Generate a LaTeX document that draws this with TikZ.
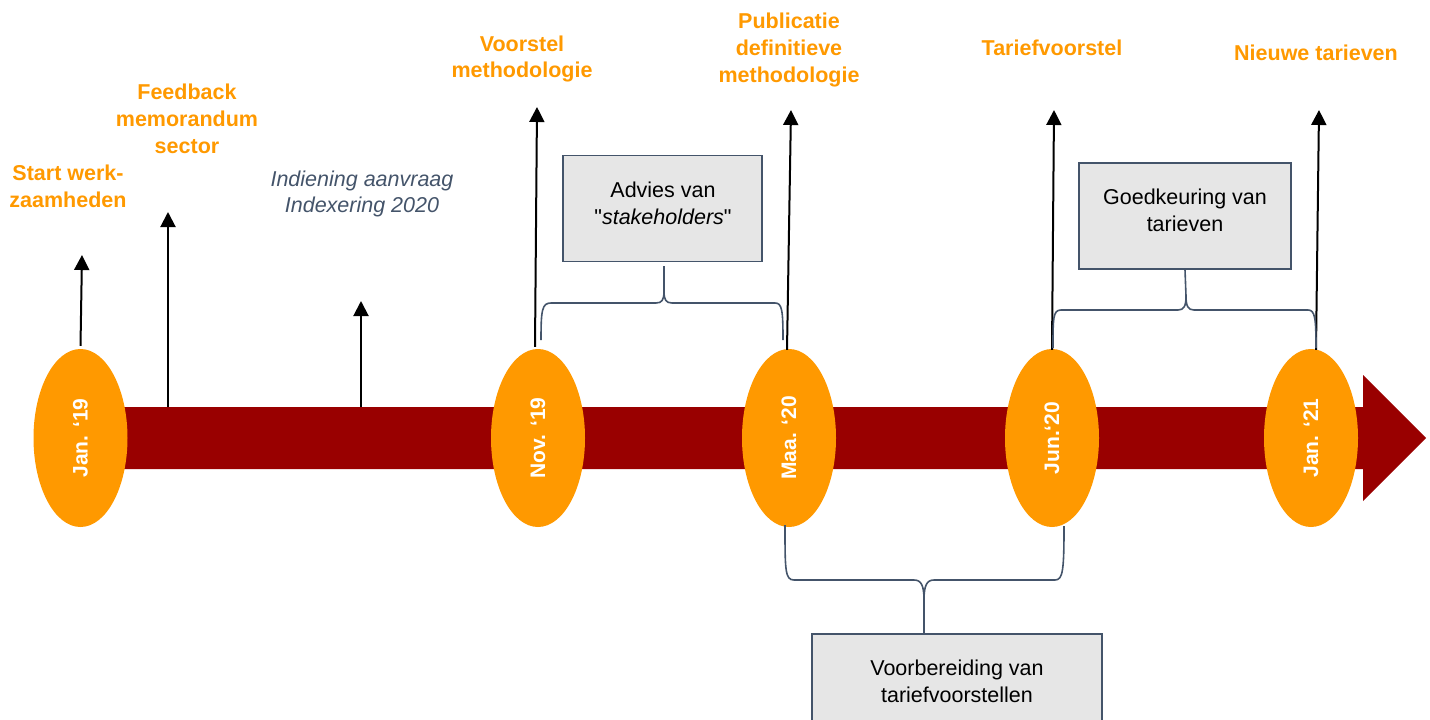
\documentclass[tikz,border=0pt]{standalone}
\usepackage{fontspec}
\setmainfont{Liberation Sans}[Ligatures=TeXOff]
\usepackage{graphicx}
\usetikzlibrary{arrows.meta,shapes.geometric}
\definecolor{orng}{RGB}{255,153,0}
\definecolor{barred}{RGB}{153,0,0}
\definecolor{slate}{RGB}{68,84,106}
\definecolor{boxgray}{RGB}{230,230,230}
\begin{document}
\begin{tikzpicture}[x=1pt,y=-1pt,
  lbl/.style={text=orng, font=\bfseries\fontsize{21.5}{26.7}\selectfont, align=center, inner sep=0pt},
  ital/.style={text=slate, font=\itshape\fontsize{21.5}{26.7}\selectfont, align=center, inner sep=0pt},
  boxtxt/.style={text=black, font=\fontsize{21.5}{27}\selectfont, align=center, inner sep=0pt},
  mile/.style={ellipse, fill=orng, minimum width=94pt, minimum height=178pt, inner sep=0pt, text=white, font=\bfseries\fontsize{21}{25}\selectfont},
  boxs/.style={draw=slate, fill=boxgray, line width=1.5pt, inner sep=0pt},
  arr/.style={line width=2pt, -{Triangle[width=15pt,length=15pt]}},
  brc/.style={draw=slate, line width=1.6pt}]
\useasboundingbox (0,0) rectangle (1430,720);
\clip (0,0) rectangle (1430,720);
% timeline bar
\fill[barred] (80,407) -- (1363,407) -- (1363,375) -- (1426,438) -- (1363,501) -- (1363,469) -- (80,469) -- cycle;
% milestones
\node[mile] (j19) at (80.5,438) {\rotatebox{90}{Jan. ‘19}};
\node[mile] (n19) at (538,438) {\rotatebox{90}{Nov. ‘19}};
\node[mile] (m20) at (789,438) {\rotatebox{90}{Maa. ‘20}};
\node[mile] (j20) at (1052,438) {\rotatebox{90}{Jun.‘20}};
\node[mile] (j21) at (1311,438) {\rotatebox{90}{Jan. ‘21}};
% labels
\node[lbl] (l1) at (68,186) {Start werk-\\zaamheden};
\node[lbl] (l2) at (187,119) {Feedback\\memorandum\\sector};
\node[ital] (l3) at (362,194) {Indiening aanvraag\\Indexering 2020};
\node[lbl] (l4) at (522,59) {Voorstel\\methodologie};
\node[lbl] (l5) at (789,50) {Publicatie\\definitieve\\methodologie};
\node[lbl] (l6) at (1052,48) {Tariefvoorstel};
\node[lbl] (l7) at (1316,53) {Nieuwe tarieven};
% arrow coordinates
\coordinate (t1) at (82,255);
\coordinate (b2) at (168,407);
\coordinate (t2) at (168,212);
\coordinate (b3) at (361,407);
\coordinate (t3) at (361,301);
\coordinate (t4) at (537,107);
\coordinate (t5) at (791,110);
\coordinate (t6) at (1054,110);
\coordinate (t7) at (1319,110);
\draw[arr] ([yshift=3pt]j19.north) -- (t1);
\draw[arr] (b2) -- (t2);
\draw[arr] (b3) -- (t3);
\draw[arr] ([xshift=-3pt,yshift=2pt]n19.north) -- (t4);
\draw[arr] ([xshift=-2pt,yshift=-1pt]m20.north) -- (t5);
\draw[arr] ([yshift=-1pt]j20.north) -- (t6);
\draw[arr] ([xshift=5pt,yshift=-1pt]j21.north) -- (t7);
% boxes
\node[boxs, minimum width=199pt, minimum height=106pt] (adv) at (662.5,208.7) {};
\node[boxtxt] (advt) at (663,203) {Advies van\\"\textit{stakeholders}"};
\node[boxs, minimum width=212pt, minimum height=106pt] (goed) at (1185,216) {};
\node[boxtxt] (goedt) at (1185,210) {Goedkeuring van\\tarieven};
\node[boxs, minimum width=290pt, minimum height=112pt] (voor) at (957,690) {};
\node[boxtxt] (voort) at (957,681) {Voorbereiding van\\tariefvoorstellen};
\coordinate (vtop) at (924,634);
% braces
\draw[brc] (541,340) .. controls (541,310) and (542,303) .. (551,303) -- (656,303)
  .. controls (662,303) and (664,300) .. (664,291) -- (664,266);
\draw[brc] (664,291) .. controls (664,300) and (666,303) .. (672,303) -- (775,303)
  .. controls (782,303) and (783,310) .. (783,340);
\draw[brc] (1053,348) .. controls (1053,318) and (1053,310) .. (1061,310) -- (1178,310)
  .. controls (1184,310) and (1186,306) .. (1186,296) -- (goed.south);
\draw[brc] (1186,296) .. controls (1186,306) and (1188,310) .. (1194,310) -- (1308,310)
  .. controls (1315,310) and (1316,318) .. (1316,348);
\draw[brc] (785,525) .. controls (785,570) and (785,580) .. (794,580) -- (914,580)
  .. controls (921,580) and (924,585) .. (924,600) -- (vtop);
\draw[brc] (924,600) .. controls (924,585) and (927,580) .. (934,580) -- (1055,580)
  .. controls (1063,580) and (1064,570) .. (1064,526);
\end{tikzpicture}
\end{document}
